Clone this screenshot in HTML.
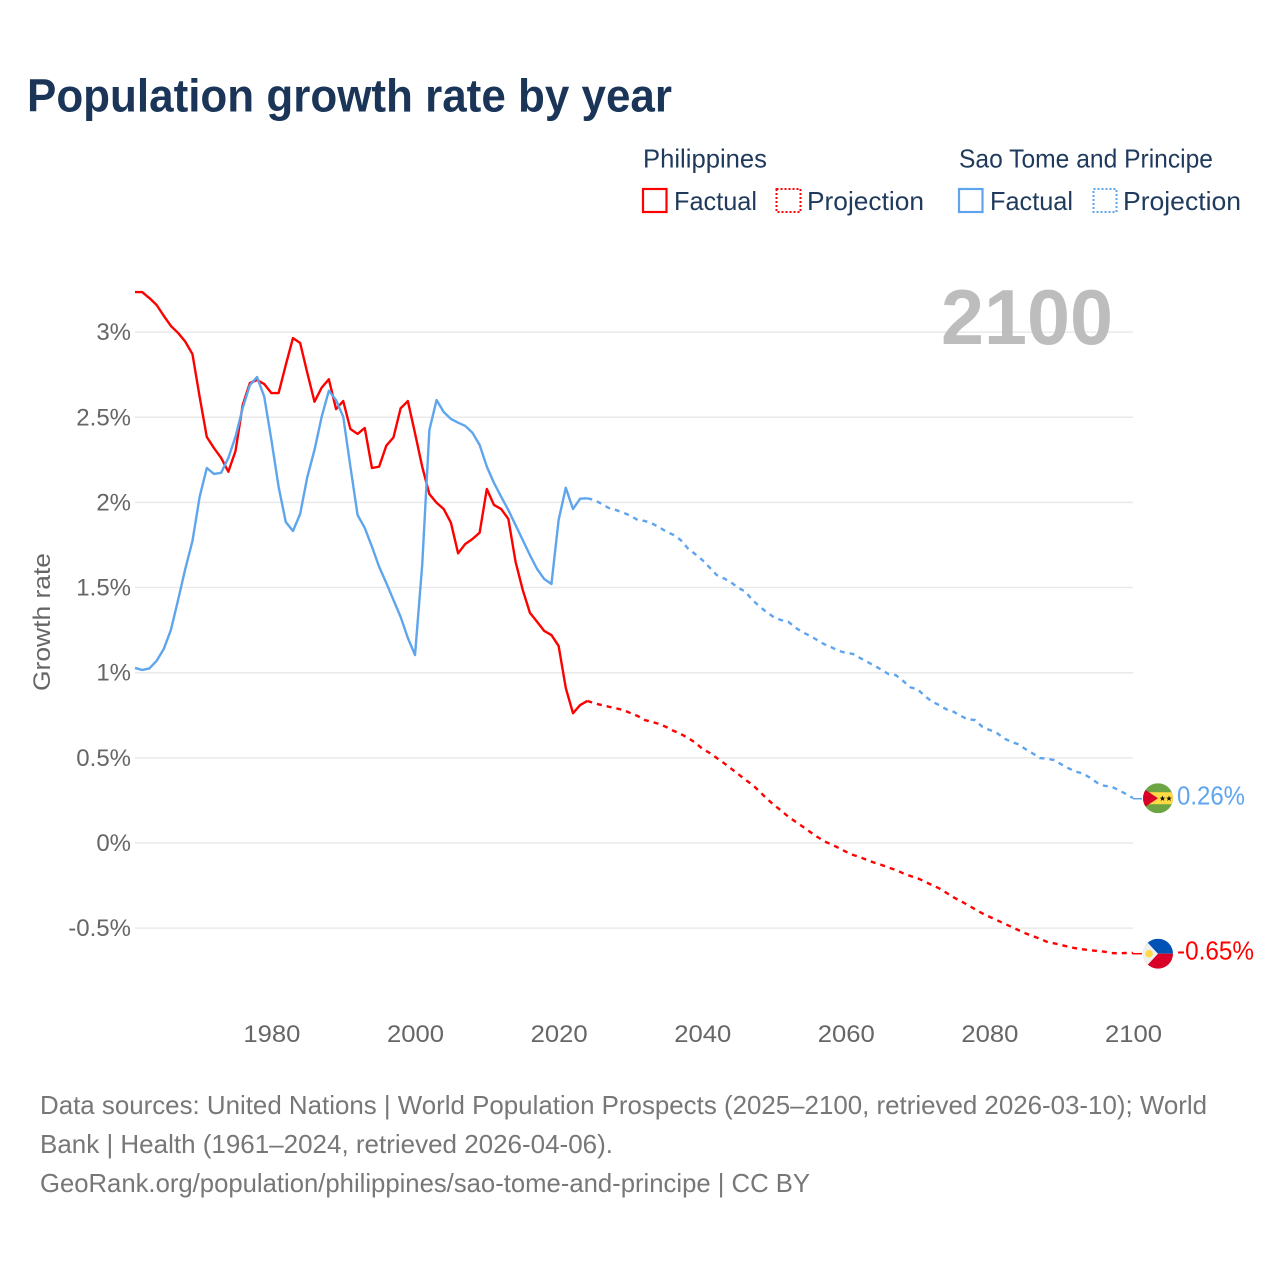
<!DOCTYPE html>
<html lang="en">
<head>
<meta charset="utf-8">
<title>Population growth rate by year</title>
<style>
html,body{margin:0;padding:0;background:#fff;width:1280px;height:1280px;overflow:hidden}
svg{display:block;font-family:"Liberation Sans",sans-serif}
</style>
</head>
<body>
<svg id="chart" xmlns="http://www.w3.org/2000/svg" width="1280" height="1280" viewBox="0 0 1280 1280">
  <rect x="0" y="0" width="1280" height="1280" fill="#fff"/>
  <text x="27" y="111.5" font-size="46" font-weight="700" fill="#1a3557" textLength="645" lengthAdjust="spacingAndGlyphs">Population growth rate by year</text>

  <g font-size="26" fill="#1f3a5c">
    <text x="643" y="167.5" textLength="124" lengthAdjust="spacingAndGlyphs">Philippines</text>
    <text x="959" y="167.5" textLength="254" lengthAdjust="spacingAndGlyphs">Sao Tome and Principe</text>
    <rect x="643" y="189" width="23.5" height="23" fill="none" stroke="#ff0000" stroke-width="2.2"/>
    <text x="674" y="210" textLength="83" lengthAdjust="spacingAndGlyphs">Factual</text>
    <rect x="776.5" y="189" width="24" height="23" fill="none" stroke="#ff0000" stroke-width="2" stroke-dasharray="2 2"/>
    <text x="807" y="210" textLength="117" lengthAdjust="spacingAndGlyphs">Projection</text>
    <rect x="959" y="189" width="23.5" height="23" fill="none" stroke="#5ea5ee" stroke-width="2.2"/>
    <text x="990" y="210" textLength="83" lengthAdjust="spacingAndGlyphs">Factual</text>
    <rect x="1093.5" y="189" width="23" height="23" fill="none" stroke="#5ea5ee" stroke-width="2" stroke-dasharray="2 2"/>
    <text x="1123" y="210" textLength="118" lengthAdjust="spacingAndGlyphs">Projection</text>
  </g>

  <g id="grid"></g>
  <g id="yticks" font-size="24" fill="#666"></g>
  <g id="xticks" font-size="24" fill="#666"></g>

  <text transform="translate(50,622) rotate(-90)" text-anchor="middle" font-size="24" fill="#666" textLength="138" lengthAdjust="spacingAndGlyphs">Growth rate</text>
  <text x="941" y="344" font-size="78" font-weight="700" fill="#bdbdbd" textLength="172" lengthAdjust="spacingAndGlyphs">2100</text>

  <g id="series"></g>

  <defs>
    <clipPath id="flag-clip"><circle cx="0" cy="0" r="15"/></clipPath>
  </defs>
  <g id="end-st">
    <g transform="translate(25,-0.5)" clip-path="url(#flag-clip)">
      <rect x="-15" y="-15" width="30" height="30" fill="#6da544"/>
      <rect x="-15" y="-6" width="30" height="12" fill="#ffda44"/>
      <path d="M-15,-10 L0,0 L-15,10 Z" fill="#d80027"/>
      <path d="M4.5,-2.6 L5.3,-0.6 L7.4,-0.6 L5.7,0.7 L6.3,2.7 L4.5,1.5 L2.7,2.7 L3.3,0.7 L1.6,-0.6 L3.7,-0.6 Z" fill="#111"/>
      <path d="M11,-2.6 L11.8,-0.6 L13.9,-0.6 L12.2,0.7 L12.8,2.7 L11,1.5 L9.2,2.7 L9.8,0.7 L8.1,-0.6 L10.2,-0.6 Z" fill="#111"/>
    </g>
  </g>
  <g id="end-ph">
    <g transform="translate(25,0)" clip-path="url(#flag-clip)">
      <rect x="-15" y="-15" width="30" height="15" fill="#0052b4"/>
      <rect x="-15" y="0" width="30" height="15" fill="#d80027"/>
      <path d="M-15,-15 L-14,-15 L0,0 L-14,15 L-15,15 Z" fill="#f0f0f0"/>
      <path d="M-15,-15 L-12,-12 L-12,12 L-15,15 Z" fill="#f0f0f0"/>
      <circle cx="-9" cy="0" r="3.8" fill="#ffda44"/>
    </g>
  </g>

  <g font-size="26" fill="#777">
    <text x="40" y="1114" textLength="1167" lengthAdjust="spacingAndGlyphs">Data sources: United Nations | World Population Prospects (2025–2100, retrieved 2026-03-10); World</text>
    <text x="40" y="1153" textLength="573" lengthAdjust="spacingAndGlyphs">Bank | Health (1961–2024, retrieved 2026-04-06).</text>
    <text x="40" y="1192" textLength="770" lengthAdjust="spacingAndGlyphs">GeoRank.org/population/philippines/sao-tome-and-principe | CC BY</text>
  </g>
</svg>

<script>
const yTickValues = [3, 2.5, 2, 1.5, 1, 0.5, 0, -0.5];
const yTickLabels = ["3%", "2.5%", "2%", "1.5%", "1%", "0.5%", "0%", "-0.5%"];
const xTickYears = [1980, 2000, 2020, 2040, 2060, 2080, 2100];
const xTickLabels = ["1980", "2000", "2020", "2040", "2060", "2080", "2100"];

const factualStartYear = [1961];
const projectionStartYear = [2024];

const philippinesFactual = [3.235,3.235,3.2,3.16,3.096,3.036,2.995,2.944,2.871,2.621,2.384,2.319,2.261,2.18,2.302,2.572,2.701,2.719,2.695,2.642,2.642,2.807,2.965,2.936,2.76,2.591,2.674,2.723,2.548,2.595,2.431,2.402,2.437,2.202,2.21,2.333,2.382,2.553,2.595,2.406,2.21,2.049,1.998,1.961,1.881,1.701,1.756,1.785,1.822,2.079,1.985,1.961,1.903,1.652,1.486,1.352,1.299,1.245,1.221,1.157,0.91,0.762,0.81,0.834];
const philippinesProjection = [0.834,0.82,0.81,0.8,0.791,0.781,0.763,0.746,0.722,0.711,0.699,0.681,0.659,0.64,0.618,0.59,0.554,0.53,0.5,0.47,0.438,0.405,0.372,0.342,0.302,0.26,0.223,0.19,0.154,0.125,0.096,0.066,0.037,0.01,-0.008,-0.029,-0.051,-0.07,-0.084,-0.1,-0.116,-0.129,-0.145,-0.159,-0.178,-0.194,-0.207,-0.227,-0.247,-0.266,-0.292,-0.319,-0.341,-0.364,-0.389,-0.413,-0.433,-0.452,-0.472,-0.491,-0.511,-0.53,-0.546,-0.562,-0.58,-0.589,-0.599,-0.609,-0.618,-0.624,-0.63,-0.634,-0.638,-0.646,-0.648,-0.646,-0.646];
const saoTomeFactual = [1.028,1.016,1.025,1.069,1.139,1.251,1.427,1.609,1.773,2.032,2.202,2.167,2.174,2.261,2.386,2.554,2.689,2.736,2.621,2.366,2.092,1.885,1.832,1.932,2.149,2.308,2.503,2.656,2.601,2.503,2.21,1.926,1.85,1.74,1.622,1.527,1.427,1.327,1.204,1.104,1.632,2.425,2.601,2.531,2.49,2.468,2.449,2.409,2.337,2.21,2.114,2.033,1.955,1.867,1.779,1.691,1.609,1.55,1.521,1.897,2.086,1.961,2.022,2.024];
const saoTomeProjection = [2.024,2.014,1.991,1.967,1.955,1.94,1.922,1.897,1.891,1.877,1.854,1.828,1.809,1.779,1.73,1.697,1.662,1.619,1.574,1.554,1.531,1.499,1.476,1.427,1.388,1.355,1.325,1.309,1.299,1.264,1.237,1.217,1.192,1.167,1.149,1.129,1.116,1.11,1.086,1.063,1.041,1.016,0.991,0.985,0.951,0.914,0.903,0.863,0.83,0.81,0.785,0.771,0.746,0.726,0.722,0.683,0.664,0.648,0.615,0.595,0.58,0.552,0.527,0.499,0.495,0.487,0.462,0.439,0.419,0.409,0.383,0.354,0.336,0.331,0.311,0.288,0.264];

const endValues = [0.26, -0.65];
const endLabels = ["0.26%", "-0.65%"];

const NS = "http://www.w3.org/2000/svg";
function xScale(year) { return 135 + (year - 1961) * 7.18; }
function yScale(value) { return 843 - 170.3 * value; }

function linePath(values, startYear) {
  return values.map(function (v, i) {
    return (i ? "L" : "M") + xScale(startYear + i).toFixed(2) + "," + yScale(v).toFixed(2);
  }).join(" ");
}

const gridG = document.getElementById("grid");
const yG = document.getElementById("yticks");
yTickValues.forEach(function (v, i) {
  const line = document.createElementNS(NS, "line");
  
  
  line.setAttribute("x1", 135);
  line.setAttribute("x2", 1133);
  line.setAttribute("y1", yScale(v));
  line.setAttribute("y2", yScale(v));
  line.setAttribute("stroke", "#e9e9e9");
  line.setAttribute("stroke-width", "1.5");
  gridG.appendChild(line);

  const t = document.createElementNS(NS, "text");
  
  
  t.setAttribute("x", 131);
  t.setAttribute("y", yScale(v) + 8);
  t.setAttribute("text-anchor", "end");
  t.textContent = yTickLabels[i];
  yG.appendChild(t);
});

const xG = document.getElementById("xticks");
xTickYears.forEach(function (year, i) {
  const t = document.createElementNS(NS, "text");
  
  
  t.setAttribute("x", xScale(year) + 0.5);
  t.setAttribute("y", 1042);
  t.setAttribute("text-anchor", "middle");
  t.setAttribute("textLength", "57");
  t.setAttribute("lengthAdjust", "spacingAndGlyphs");
  t.textContent = xTickLabels[i];
  xG.appendChild(t);
});

const seriesG = document.getElementById("series");
function addLine(name, values, startYear, color, dash) {
  const p = document.createElementNS(NS, "path");
  
  
  p.setAttribute("d", linePath(values, startYear));
  p.setAttribute("fill", "none");
  p.setAttribute("stroke", color);
  p.setAttribute("stroke-width", "2.4");
  p.setAttribute("stroke-linejoin", "round");
  if (dash) p.setAttribute("stroke-dasharray", dash);
  seriesG.appendChild(p);
}
addLine("philippines-factual-line", philippinesFactual, factualStartYear[0], "#ff0000");
addLine("philippines-projection-line", philippinesProjection, projectionStartYear[0], "#ff0000", "5 5");
addLine("sao-tome-factual-line", saoTomeFactual, factualStartYear[0], "#5ea5ee");
addLine("sao-tome-projection-line", saoTomeProjection, projectionStartYear[0], "#5ea5ee", "5 5");

function placeEnd(groupId, lastValue, labelIndex, color, labelWidth) {
  const g = document.getElementById(groupId);
  g.setAttribute("transform", "translate(1133," + yScale(lastValue).toFixed(2) + ")");
  const link = document.createElementNS(NS, "line");
  
  
  link.setAttribute("x1", 0);
  link.setAttribute("x2", 9);
  link.setAttribute("y1", 0);
  link.setAttribute("y2", 0);
  link.setAttribute("stroke", color);
  link.setAttribute("stroke-width", "1.5");
  g.insertBefore(link, g.firstChild);
  const t = document.createElementNS(NS, "text");
  
  
  t.setAttribute("x", 44);
  t.setAttribute("y", 6);
  t.setAttribute("font-size", "26");
  t.setAttribute("fill", color);
  t.setAttribute("textLength", labelWidth);
  t.setAttribute("lengthAdjust", "spacingAndGlyphs");
  t.textContent = endLabels[labelIndex];
  g.appendChild(t);
}
placeEnd("end-st", endValues[0], 0, "#5ea5ee", 68);
placeEnd("end-ph", endValues[1], 1, "#ff0000", 77);
</script>
</body>
</html>
